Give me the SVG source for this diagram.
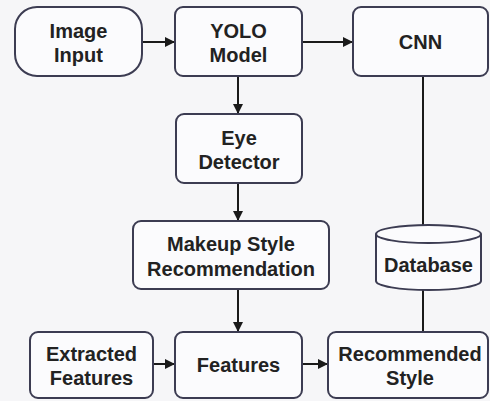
<svg xmlns="http://www.w3.org/2000/svg" width="490" height="401" viewBox="0 0 490 401">
<defs>
<marker id="ah" viewBox="0 0 10 10" refX="10" refY="5" markerWidth="10" markerHeight="10" markerUnits="userSpaceOnUse" orient="auto">
<path d="M0,0 L10,5 L0,10 z" fill="#1a1a1a"/>
</marker>
<style>
.box{fill:#fbfbfd;stroke:#3c3c52;stroke-width:2}
.t{font-family:"Liberation Sans",Arial,sans-serif;font-weight:bold;font-size:20px;fill:#222;text-anchor:middle}
.c{stroke:#1a1a1a;stroke-width:2;fill:none}
</style>
</defs>
<rect width="490" height="401" fill="#f6f6f8"/>
<g id="connectors">
<line class="c" x1="142" y1="42" x2="175" y2="42" marker-end="url(#ah)"/>
<line class="c" x1="302" y1="42" x2="353" y2="42" marker-end="url(#ah)"/>
<line class="c" x1="238" y1="76" x2="238" y2="114" marker-end="url(#ah)"/>
<line class="c" x1="238" y1="183" x2="238" y2="221" marker-end="url(#ah)"/>
<line class="c" x1="238" y1="289" x2="238" y2="332" marker-end="url(#ah)"/>
<line class="c" x1="153" y1="364" x2="175" y2="364" marker-end="url(#ah)"/>
<line class="c" x1="302" y1="364" x2="328" y2="364" marker-end="url(#ah)"/>
<line class="c" x1="423" y1="76" x2="423" y2="226"/>
<line class="c" x1="423" y1="290" x2="423" y2="332"/>
</g>
<g id="image-input">
<rect class="box" x="15" y="7" width="127" height="69" rx="22"/>
<text class="t" x="78.5" y="38">Image</text>
<text class="t" x="78.5" y="62">Input</text>
</g>
<g id="yolo-model">
<rect class="box" x="175" y="7" width="127" height="69" rx="8"/>
<text class="t" x="238.5" y="38">YOLO</text>
<text class="t" x="238.5" y="62">Model</text>
</g>
<g id="cnn">
<rect class="box" x="353" y="7" width="135" height="69" rx="8"/>
<text class="t" x="420.5" y="49">CNN</text>
</g>
<g id="eye-detector">
<rect class="box" x="176" y="114" width="126" height="69" rx="8"/>
<text class="t" x="239" y="145">Eye</text>
<text class="t" x="239" y="169">Detector</text>
</g>
<g id="makeup-style">
<rect class="box" x="133" y="221" width="196" height="68" rx="8"/>
<text class="t" x="231" y="251">Makeup Style</text>
<text class="t" x="231" y="276">Recommendation</text>
</g>
<g id="database">
<path class="box" d="M376,234 L376,281 A52.5,9 0 0 0 481,281 L481,234"/>
<ellipse class="box" cx="428.5" cy="234" rx="52.5" ry="9"/>
<text class="t" x="428.5" y="272">Database</text>
</g>
<g id="extracted-features">
<rect class="box" x="30" y="332" width="123" height="66" rx="8"/>
<text class="t" x="91.5" y="361">Extracted</text>
<text class="t" x="91.5" y="385">Features</text>
</g>
<g id="features">
<rect class="box" x="175" y="332" width="127" height="66" rx="8"/>
<text class="t" x="238.5" y="372">Features</text>
</g>
<g id="recommended-style">
<rect class="box" x="328" y="332" width="160" height="66" rx="8"/>
<text class="t" x="410" y="361">Recommended</text>
<text class="t" x="410" y="385">Style</text>
</g>
</svg>
